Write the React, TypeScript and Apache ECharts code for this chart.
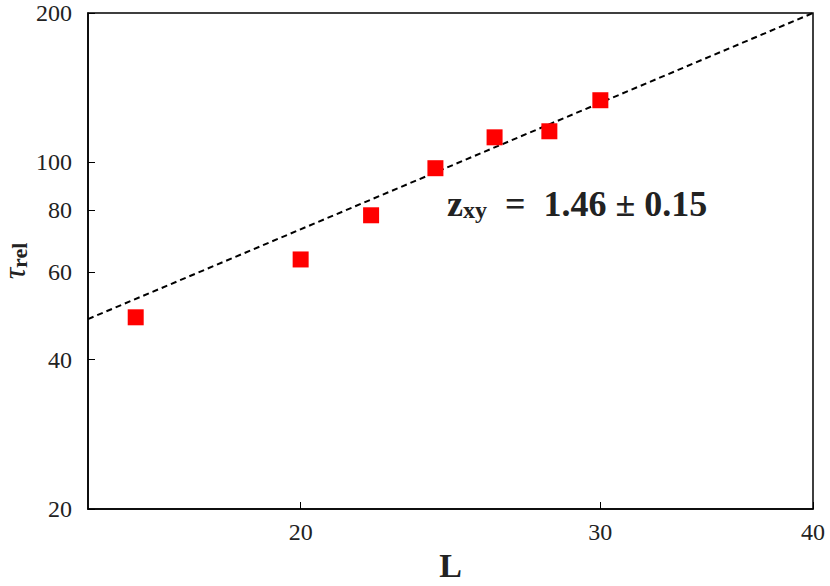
import React, { useEffect, useRef } from "react";
import * as echarts from "echarts";

const sizesL = [16, 20, 22, 24, 26, 28, 30];
const tauRel = [48.7, 63.7, 78.2, 97.3, 112.3, 115.5, 133.4];
const fitL = [15, 40];
const fitTau = [48.3, 200];
const xTicks = [20, 30, 40];
const yTicks = [20, 40, 60, 80, 100, 200];

const FONT = "Liberation Serif";

export default function App() {
  const ref = useRef<HTMLDivElement>(null);
  useEffect(() => {
    if (!ref.current) return;
    const chart = echarts.init(ref.current, undefined, { renderer: "svg" });
    chart.setOption({
      animation: false,
      backgroundColor: "#ffffff",
      grid: {
        left: 88,
        right: 17,
        top: 13,
        bottom: 77,
        containLabel: false,
        outerBoundsMode: "none",
        show: true,
        borderColor: "#000",
        borderWidth: 1.5,
        backgroundColor: "transparent",
      },
      xAxis: {
        type: "log",
        logBase: 10,
        min: 15,
        max: 40,
        name: "L",
        nameLocation: "middle",
        nameGap: 39,
        nameMoveOverlap: false,
        nameTextStyle: { fontFamily: FONT, fontSize: 34, fontWeight: "bold", color: "#222", lineHeight: 34 },
        axisLine: { show: true, lineStyle: { color: "#000", width: 1.5 } },
        axisTick: { show: true, inside: true, length: 7, customValues: xTicks, lineStyle: { color: "#000" } },
        axisLabel: { customValues: xTicks, margin: 11, fontFamily: FONT, fontSize: 24, color: "#222" },
        splitLine: { show: false },
        minorTick: { show: false },
      },
      yAxis: {
        type: "log",
        logBase: 10,
        min: 20,
        max: 200,
        name: "{t|τ}{s|rel}",
        nameLocation: "middle",
        nameGap: 58,
        nameMoveOverlap: false,
        nameTextStyle: {
          fontFamily: FONT,
          color: "#222",
          rich: {
            t: { fontFamily: FONT, fontSize: 32, fontStyle: "italic", color: "#222", verticalAlign: "bottom", lineHeight: 28 },
            s: { fontFamily: FONT, fontSize: 22, fontWeight: "bold", color: "#222", padding: [6, 0, 0, 0], verticalAlign: "bottom", lineHeight: 22 },
          },
        },
        axisLine: { show: true, lineStyle: { color: "#000", width: 1.5 } },
        axisTick: { show: true, inside: true, length: 7, customValues: yTicks, lineStyle: { color: "#000" } },
        axisLabel: { customValues: yTicks, margin: 16, fontFamily: FONT, fontSize: 24, color: "#222" },
        splitLine: { show: false },
        minorTick: { show: false },
      },
      graphic: [
        {
          type: "text",
          left: 447,
          top: 186,
          style: {
            text: "{z|z}{s|xy}{n|  =  1.46 ± 0.15}",
            rich: {
              z: { fontFamily: FONT, fontSize: 36, fontWeight: "bold", fill: "#222", verticalAlign: "bottom" },
              s: { fontFamily: FONT, fontSize: 24, fontWeight: "bold", fill: "#222", padding: [14, 0, 0, 0], verticalAlign: "bottom" },
              n: { fontFamily: FONT, fontSize: 36, fontWeight: "bold", fill: "#222", verticalAlign: "bottom" },
            },
          },
        },
      ],
      series: [
        {
          type: "line",
          data: fitL.map((l, i) => [l, fitTau[i]]),
          showSymbol: false,
          symbol: "none",
          lineStyle: { color: "#000", width: 2, type: [6, 4] },
          z: 2,
        },
        {
          type: "scatter",
          data: sizesL.map((l, i) => [l, tauRel[i]]),
          symbol: "rect",
          symbolSize: 16,
          itemStyle: { color: "#ff0000", opacity: 1 },
          z: 3,
        },
      ],
    });
    return () => chart.dispose();
  }, []);
  return (
    <div
      ref={ref}
      style={{ position: "fixed", left: 0, top: 0, width: 830, height: 586, background: "#fff" }}
    />
  );
}
